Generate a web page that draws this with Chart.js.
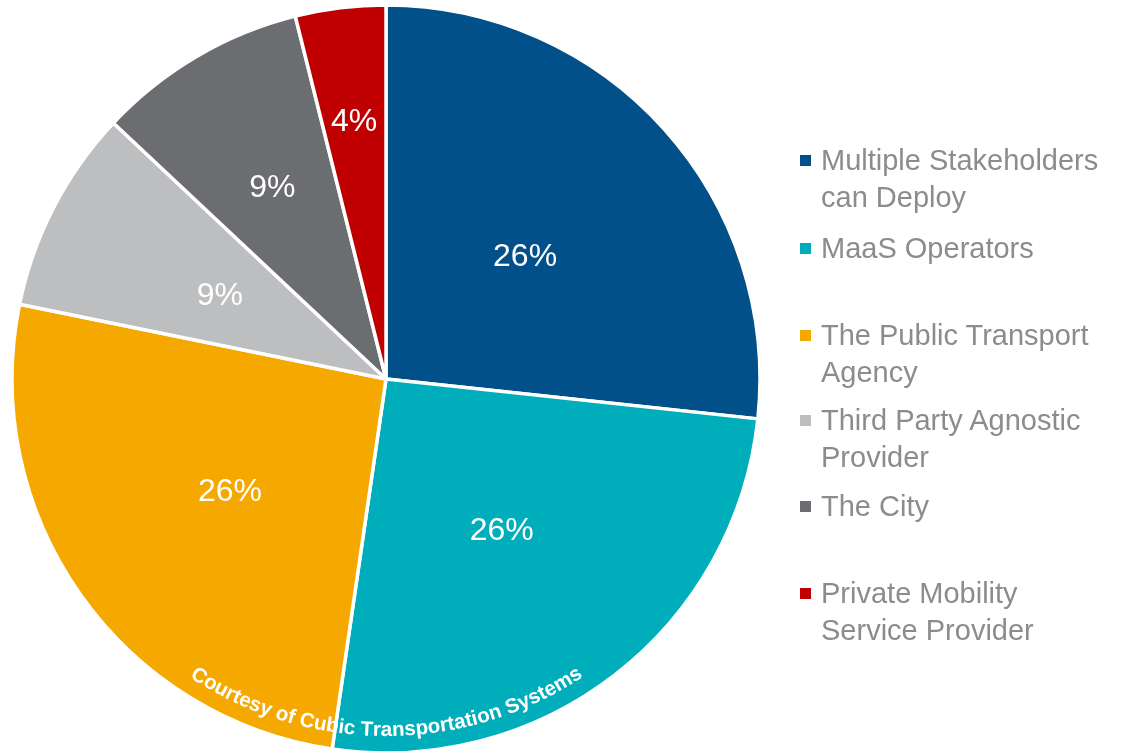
<!DOCTYPE html>
<html>
<head>
<meta charset="utf-8">
<script src="https://cdn.jsdelivr.net/npm/chart.js@4.4.1/dist/chart.umd.min.js"></script>
<style>
html, body { margin: 0; padding: 0; background: #fff; }
#wrap { position: relative; width: 1137px; height: 752px; }
#wrap canvas { position: absolute; left: 0; top: 0; }
.leg { position: absolute; left: 821px; font-family: "Liberation Sans", Arial, sans-serif; font-size: 29px; line-height: 37px; color: #8c8c8c; white-space: nowrap; }
.leg i { position: absolute; left: -21px; top: 13px; width: 11px; height: 11px; }
</style>
</head>
<body>
<div id="wrap">
	<canvas id="myChart" width="1137" height="752"></canvas>
</div>
<script>
// categories (legend order = slice order, clockwise from 12 o'clock)
var categories = [
	'Multiple Stakeholders\ncan Deploy',
	'MaaS Operators',
	'The Public Transport\nAgency',
	'Third Party Agnostic\nProvider',
	'The City',
	'Private Mobility\nService Provider'
];
// shares (%)
var shares = [26.7, 25.6, 25.9, 8.8, 9.1, 3.9];
// labels printed on the slices
var shareLabels = ['26%', '26%', '26%', '9%', '9%', '4%'];
var colors = ['#02508a', '#00aebb', '#f5a800', '#bdbec0', '#6c6d70', '#c00000'];
var credit = 'Courtesy of Cubic Transportation Systems';

// layout only
var labelRadius = [0.5, 0.505, 0.51, 0.5, 0.6, 0.7];	// fraction of radius for the % labels
var legendTops = [142, 230, 317, 402, 488, 575];		// legend item tops (px)

/* % labels + curved credit line */
var sliceText = {
	id: 'sliceText',
	afterDatasetsDraw: function(chart) {
		var ctx = chart.ctx;
		var arcs = chart.getDatasetMeta(0).data;
		ctx.save();
		ctx.fillStyle = '#ffffff';
		ctx.font = '32px "Liberation Sans", Arial, sans-serif';
		ctx.textAlign = 'center';
		ctx.textBaseline = 'middle';
		var cx = 0, cy = 0, R = 0;
		for (var i = 0; i < arcs.length; i++) {
			var p = arcs[i].getProps(['x', 'y', 'startAngle', 'endAngle', 'outerRadius'], true);
			var mid = (p.startAngle + p.endAngle) / 2;
			var r = p.outerRadius * labelRadius[i];
			ctx.fillText(shareLabels[i], p.x + Math.cos(mid) * r, p.y + Math.sin(mid) * r + 3);
			cx = p.x; cy = p.y; R = p.outerRadius;
		}

		// credit text along the bottom arc
		ctx.font = 'bold 20.5px "Liberation Sans", Arial, sans-serif';
		ctx.textBaseline = 'alphabetic';
		var rb = R - 17;
		var total = ctx.measureText(credit).width;
		var a0 = Math.PI / 2 + total / (2 * rb);
		var run = 0;
		for (var k = 0; k < credit.length; k++) {
			var ch = credit[k];
			var w = ctx.measureText(ch).width;
			var a = a0 - (run + w / 2) / rb;
			ctx.save();
			ctx.translate(cx + Math.cos(a) * rb, cy + Math.sin(a) * rb);
			ctx.rotate(a - Math.PI / 2);
			ctx.fillText(ch, 0, 0);
			ctx.restore();
			run += w;
		}
		ctx.restore();
	}
};

var ctx = document.getElementById('myChart').getContext('2d');
var myChart = new Chart(ctx, {
	type: 'pie',
	data: {
		labels: categories.map(function(c) { return c.replace('\n', ' '); }),
		datasets: [{
			data: shares,
			backgroundColor: colors,
			borderColor: '#ffffff',
			borderWidth: 3.5,
			radius: 374
		}]
	},
	options: {
		responsive: false,
		animation: false,
		layout: { padding: { left: 0, right: 365, top: 6, bottom: 0 } },
		plugins: {
			legend: { display: false },
			tooltip: { enabled: false }
		}
	},
	plugins: [sliceText]
});

/* legend on the right */
var wrap = document.getElementById('wrap');
for (var i = 0; i < categories.length; i++) {
	var d = document.createElement('div');
	d.className = 'leg';
	d.style.top = legendTops[i] + 'px';
	d.innerHTML = '<i style="background:' + colors[i] + '"></i>' + categories[i].replace('\n', '<br>');
	wrap.appendChild(d);
}
</script>
</body>
</html>
